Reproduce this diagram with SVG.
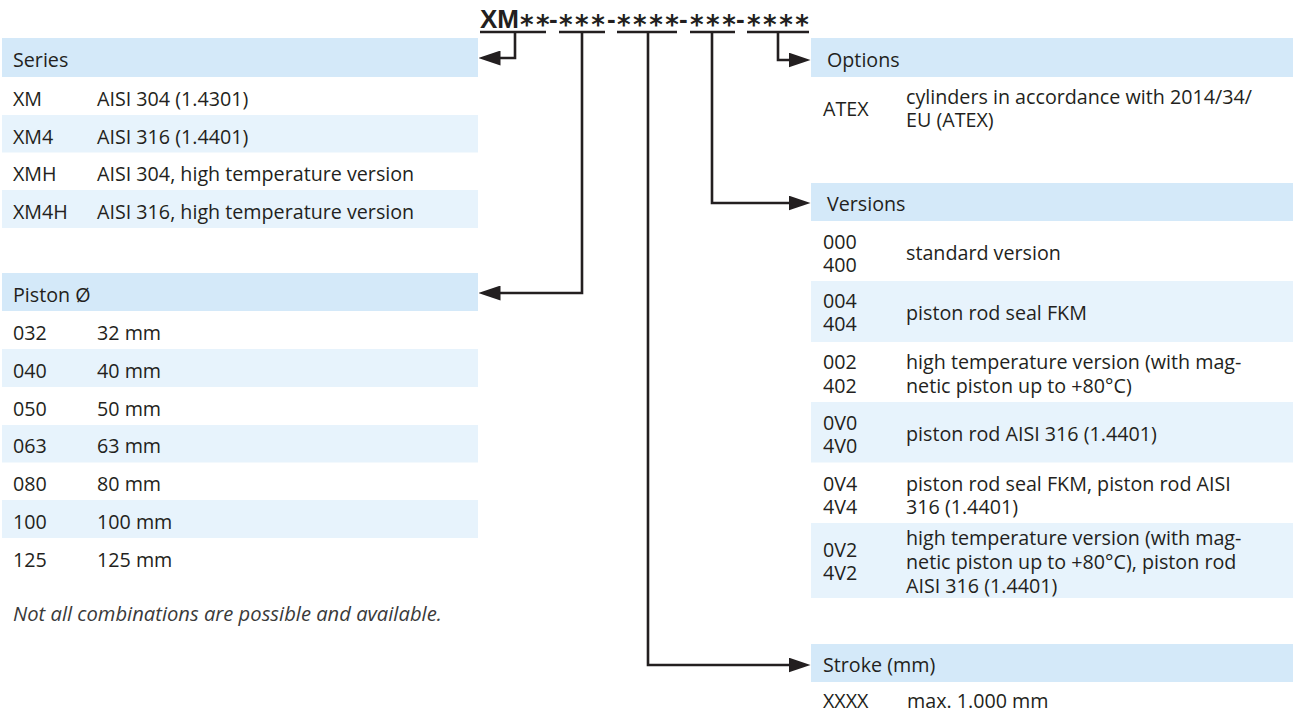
<svg xmlns="http://www.w3.org/2000/svg" width="1295" height="713" viewBox="0 0 1295 713">
<style>
.hdr{fill:#d4e9f9}
.alt{fill:#e7f3fc}
.t{font-family:"Open Sans","Liberation Sans",sans-serif;font-size:19.7px;fill:#231f20}
.n{font-family:"Open Sans","Liberation Sans",sans-serif;font-size:20.2px;font-style:italic;fill:#3a3a3a}
.conn{stroke:#231f20;stroke-width:2.6;fill:none}
.ul{stroke:#231f20;stroke-width:2.6}
.ast{font-family:"DejaVu Sans",sans-serif;font-weight:bold;font-size:26px;letter-spacing:2.5px}
</style>
<defs>
<marker id="arr" viewBox="0 0 22 15" refX="0.5" refY="7.5" markerWidth="22" markerHeight="15" markerUnits="userSpaceOnUse" orient="auto">
<path d="M0,0 L22,7.5 L0,15 z" fill="#231f20"/>
</marker>
</defs>
<rect width="1295" height="713" fill="#ffffff"/>

<g id="code">
<text font-family="Liberation Sans, Arial, sans-serif" font-weight="bold" fill="#231f20" font-size="26"><tspan x="480" y="28">XM</tspan><tspan class="ast" x="520" y="34">**</tspan><tspan x="549" y="28">-</tspan><tspan class="ast" x="559" y="34">***</tspan><tspan x="607" y="28">-</tspan><tspan class="ast" x="617" y="34">****</tspan><tspan x="679" y="28">-</tspan><tspan class="ast" x="690" y="34">***</tspan><tspan x="736" y="28">-</tspan><tspan class="ast" x="747" y="34">****</tspan></text>
</g>

<g id="connectors">
<line class="ul" x1="480" y1="32" x2="546" y2="32"/>
<line class="ul" x1="559" y1="32" x2="605" y2="32"/>
<line class="ul" x1="617" y1="32" x2="677" y2="32"/>
<line class="ul" x1="690" y1="32" x2="735" y2="32"/>
<line class="ul" x1="747" y1="32" x2="809" y2="32"/>
<path class="conn" d="M515,32 V58 H500" marker-end="url(#arr)"/>
<path class="conn" d="M582,32 V293 H500" marker-end="url(#arr)"/>
<path class="conn" d="M648,32 V665 H789" marker-end="url(#arr)"/>
<path class="conn" d="M712,32 V203 H789" marker-end="url(#arr)"/>
<path class="conn" d="M778,32 V60 H789" marker-end="url(#arr)"/>
</g>

<g id="series">
<rect class="hdr" x="2" y="38" width="476" height="39"/>
<rect class="alt" x="2" y="115" width="476" height="37.5"/>
<rect class="alt" x="2" y="190" width="476" height="38"/>
<text class="t" x="13" y="67">Series</text>
<text class="t" x="13" y="105.5">XM</text><text class="t" x="97" y="105.5">AISI 304 (1.4301)</text>
<text class="t" x="13" y="143.5">XM4</text><text class="t" x="97" y="143.5">AISI 316 (1.4401)</text>
<text class="t" x="13" y="181">XMH</text><text class="t" x="97" y="181">AISI 304, high temperature version</text>
<text class="t" x="13" y="219">XM4H</text><text class="t" x="97" y="219">AISI 316, high temperature version</text>
</g>

<g id="piston">
<rect class="hdr" x="2" y="273" width="476" height="38"/>
<rect class="alt" x="2" y="349" width="476" height="38"/>
<rect class="alt" x="2" y="425" width="476" height="37.5"/>
<rect class="alt" x="2" y="500" width="476" height="38"/>
<text class="t" x="13" y="302">Piston Ø</text>
<text class="t" x="13" y="339.5">032</text><text class="t" x="97" y="339.5">32 mm</text>
<text class="t" x="13" y="377.5">040</text><text class="t" x="97" y="377.5">40 mm</text>
<text class="t" x="13" y="415.5">050</text><text class="t" x="97" y="415.5">50 mm</text>
<text class="t" x="13" y="453">063</text><text class="t" x="97" y="453">63 mm</text>
<text class="t" x="13" y="491">080</text><text class="t" x="97" y="491">80 mm</text>
<text class="t" x="13" y="528.5">100</text><text class="t" x="97" y="528.5">100 mm</text>
<text class="t" x="13" y="566.5">125</text><text class="t" x="97" y="566.5">125 mm</text>
</g>

<g id="note">
<text class="n" x="13" y="621">Not all combinations are possible and available.</text>
</g>

<g id="options">
<rect class="hdr" x="811" y="38" width="482" height="39"/>
<text class="t" x="827" y="67">Options</text>
<text class="t" x="823" y="116">ATEX</text>
<text class="t" x="906" y="104">cylinders in accordance with 2014/34/</text>
<text class="t" x="906" y="127">EU (ATEX)</text>
</g>

<g id="versions">
<rect class="hdr" x="811" y="183" width="482" height="38"/>
<rect class="alt" x="811" y="281" width="482" height="61"/>
<rect class="alt" x="811" y="402" width="482" height="60.5"/>
<rect class="alt" x="811" y="523" width="482" height="75"/>
<text class="t" x="827" y="211">Versions</text>
<text class="t" x="823" y="249">000</text><text class="t" x="823" y="272">400</text>
<text class="t" x="906" y="260">standard version</text>
<text class="t" x="823" y="308">004</text><text class="t" x="823" y="331">404</text>
<text class="t" x="906" y="320">piston rod seal FKM</text>
<text class="t" x="823" y="369">002</text><text class="t" x="823" y="393">402</text>
<text class="t" x="906" y="369">high temperature version (with mag-</text>
<text class="t" x="906" y="393">netic piston up to +80°C)</text>
<text class="t" x="823" y="430">0V0</text><text class="t" x="823" y="453">4V0</text>
<text class="t" x="906" y="441">piston rod AISI 316 (1.4401)</text>
<text class="t" x="823" y="491">0V4</text><text class="t" x="823" y="514">4V4</text>
<text class="t" x="906" y="491">piston rod seal FKM, piston rod AISI</text>
<text class="t" x="906" y="514">316 (1.4401)</text>
<text class="t" x="823" y="557">0V2</text><text class="t" x="823" y="580">4V2</text>
<text class="t" x="906" y="545">high temperature version (with mag-</text>
<text class="t" x="906" y="569">netic piston up to +80°C), piston rod</text>
<text class="t" x="906" y="593">AISI 316 (1.4401)</text>
</g>

<g id="stroke">
<rect class="hdr" x="811" y="644" width="482" height="38"/>
<text class="t" x="823" y="672">Stroke (mm)</text>
<text class="t" x="823" y="708">XXXX</text>
<text class="t" x="907" y="708">max. 1.000 mm</text>
</g>
</svg>
